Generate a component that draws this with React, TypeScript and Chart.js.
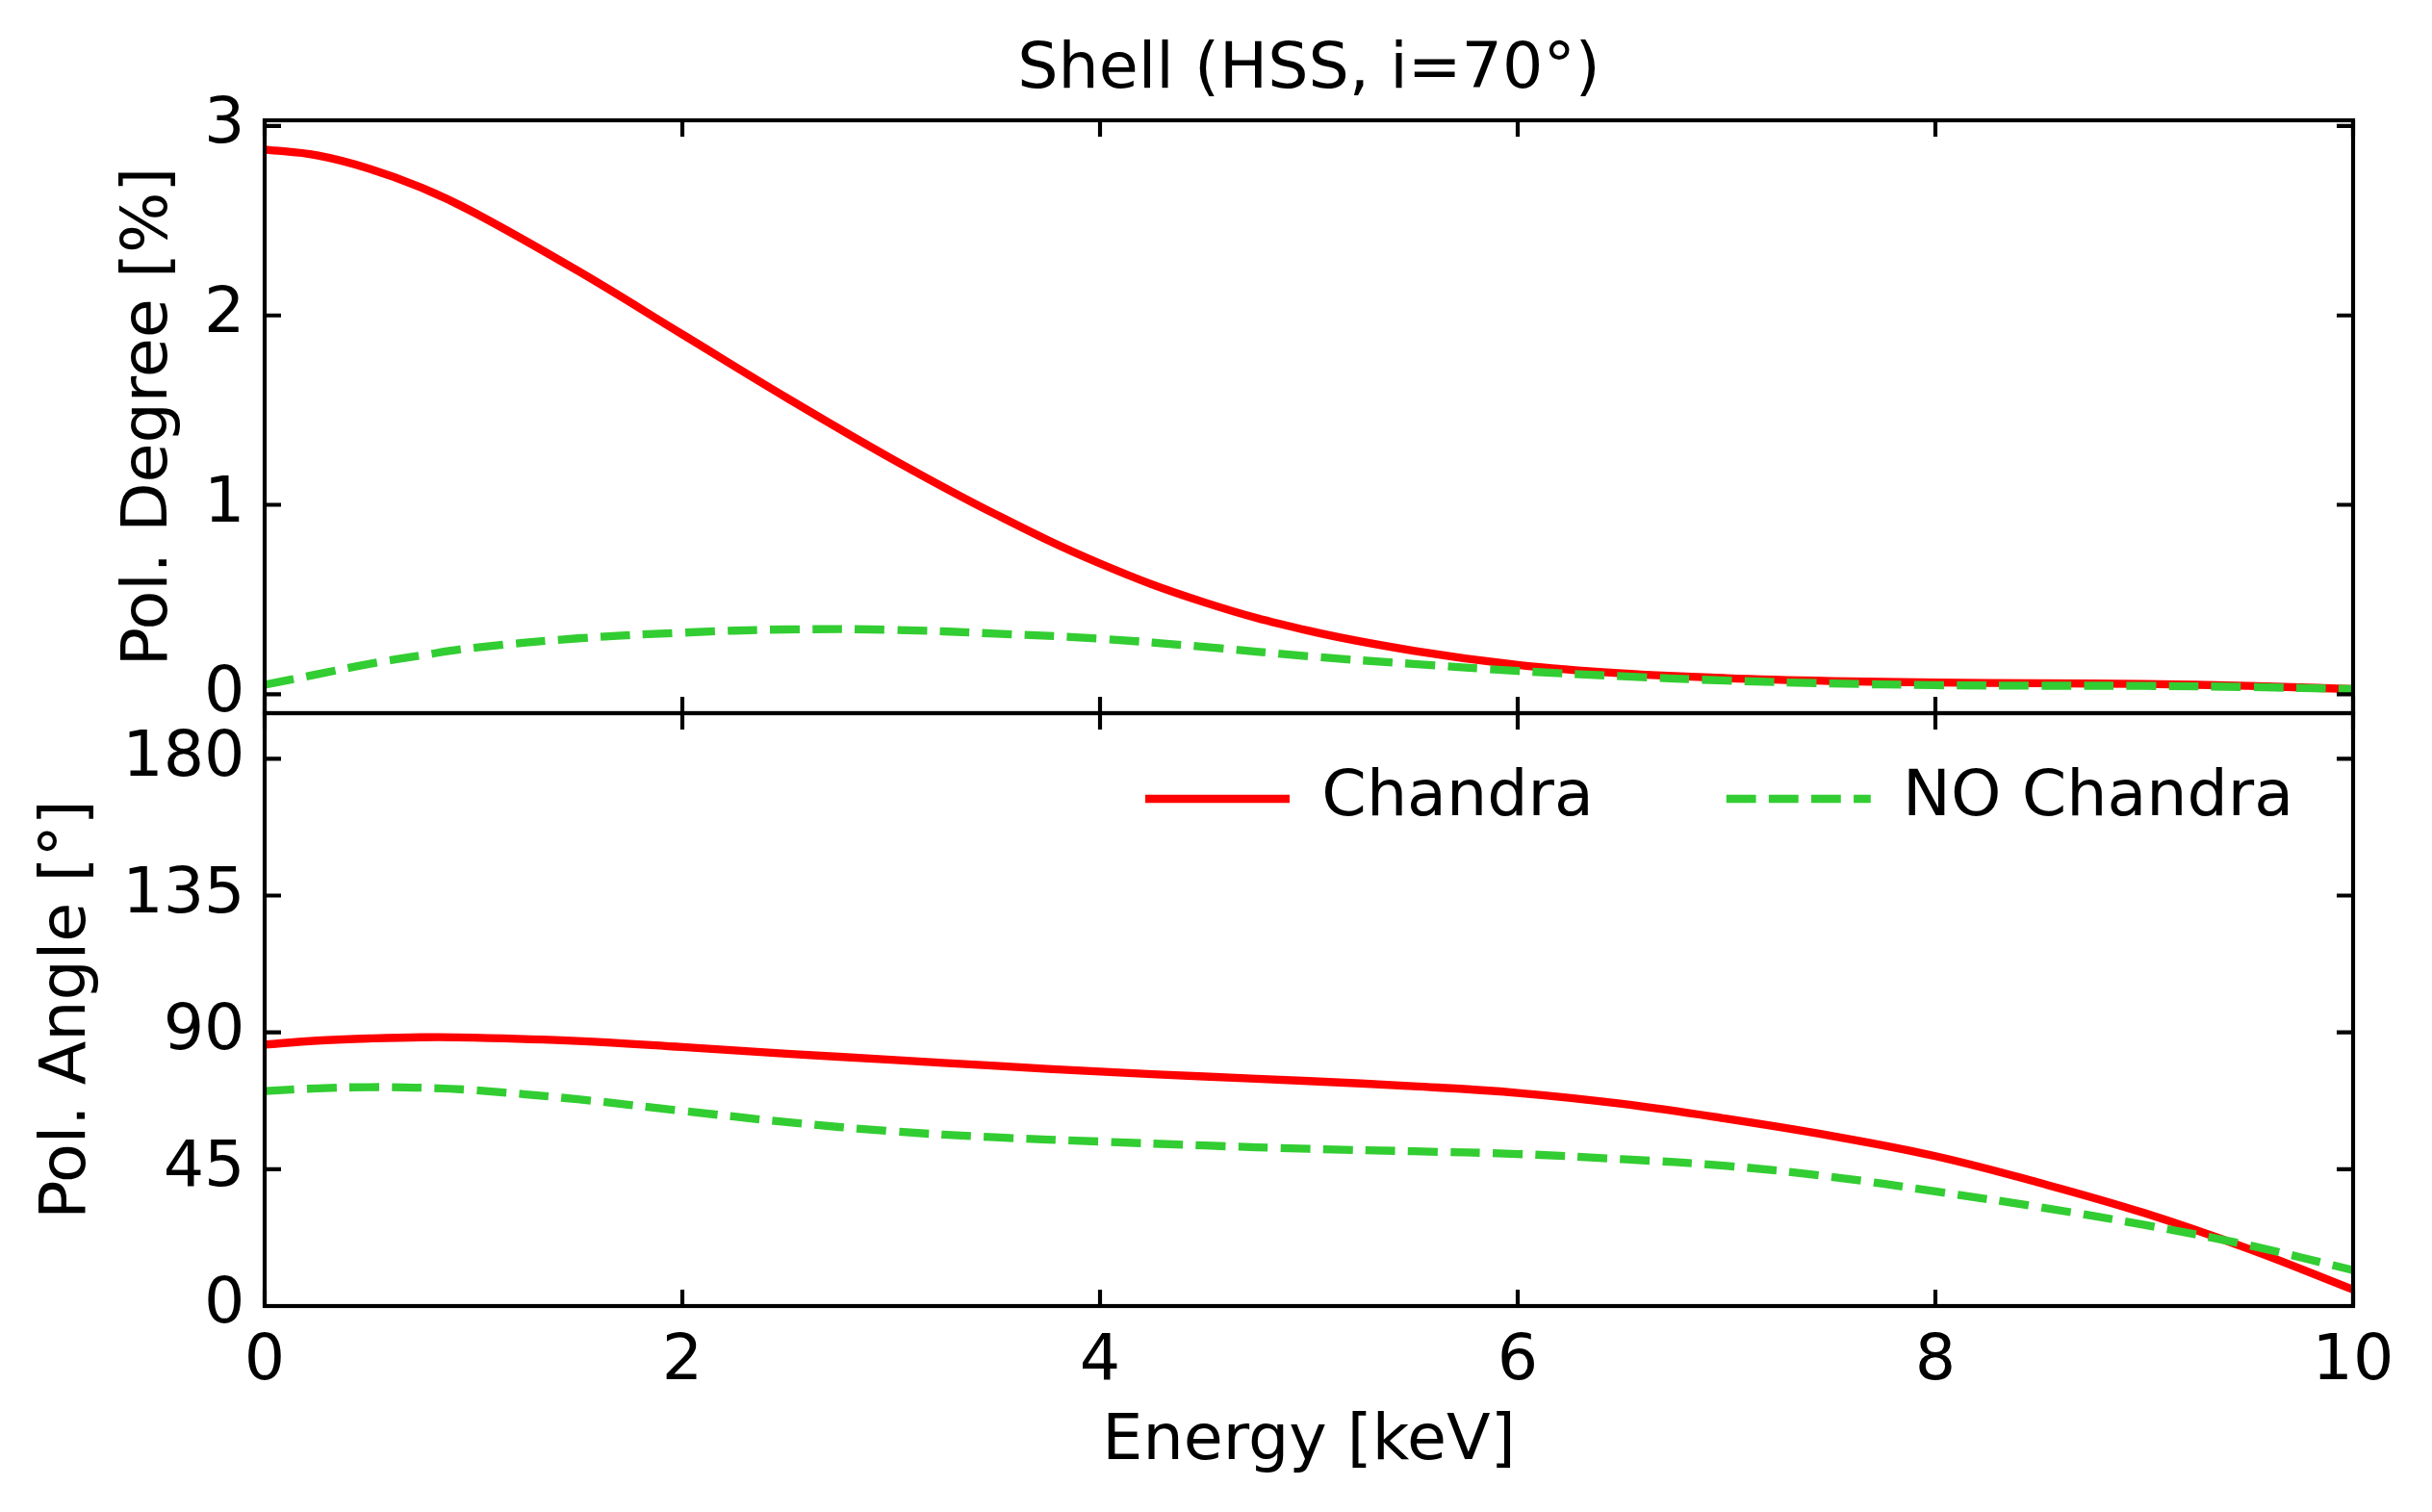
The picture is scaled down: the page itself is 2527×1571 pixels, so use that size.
import { useEffect, useRef } from 'react';
import { Chart, ChartConfiguration, registerables } from 'chart.js';

Chart.register(...registerables);

const W = 2527;
const H = 1571;
const FONT = "'DejaVu Sans', sans-serif";
const FS = 66.67;

// Energy grid [keV]
const energy = [0, 0.25, 0.5, 0.75, 1, 1.5, 2, 2.5, 3, 3.5, 4, 4.5, 5, 5.5, 6, 6.5, 7, 7.5, 8, 8.5, 9, 9.5, 10];

// Pol. Degree [%]
const degreeChandra = [2.876, 2.845, 2.775, 2.675, 2.545, 2.235, 1.9, 1.565, 1.245, 0.95, 0.69, 0.485, 0.335, 0.23, 0.155, 0.11, 0.085, 0.07, 0.062, 0.058, 0.054, 0.044, 0.027];
const degreeNoChandra = [0.05, 0.105, 0.16, 0.205, 0.245, 0.295, 0.325, 0.342, 0.34, 0.32, 0.293, 0.25, 0.2, 0.16, 0.123, 0.095, 0.072, 0.057, 0.048, 0.045, 0.044, 0.038, 0.027];

// Pol. Angle [deg]
const angleChandra = [86.0, 87.3, 88.0, 88.4, 88.3, 87.2, 85.2, 83.0, 81.0, 79.0, 77.1, 75.5, 74.0, 72.3, 70.1, 66.5, 61.6, 56.0, 49.3, 40.5, 30.6, 18.8, 5.4];
const angleNoChandra = [70.7, 71.6, 72.0, 71.8, 71.0, 68.0, 64.2, 60.5, 57.5, 55.5, 54.1, 52.8, 51.7, 50.9, 50.0, 48.3, 46.1, 42.5, 37.7, 32.5, 26.7, 20.0, 11.8];

const xTicks = [0, 2, 4, 6, 8, 10];
const degreeTicks = [0, 1, 2, 3];
const angleTicks = [0, 45, 90, 135, 180];

// axes box in page pixels
const AX_LEFT = 275;
const AX_RIGHT = 2445;
const AX_MID = 741;
const AX_BOTTOM = 1357;
const TICK = 17;

const RED = '#ff0000';
const GREEN = '#32cd32';
const DASH = [30.8, 13.3];

// legend placement (inside lower panel)
const LEG_X = 1190;
const LEG_Y = 830;
const LEG_PAD = 138;

Chart.defaults.font.family = FONT;
Chart.defaults.font.size = FS;
Chart.defaults.color = '#000';

const lineSet = (label: string, ys: number[], color: string, dash: number[], order: number) => ({
  label,
  data: energy.map((x, i) => ({ x, y: ys[i] })),
  borderColor: color,
  backgroundColor: color,
  borderWidth: 8.33,
  borderDash: dash,
  borderCapStyle: 'butt' as const,
  pointRadius: 0,
  tension: 0.4,
  fill: false,
  order,
});

// matplotlib-like frame with inward ticks on all four sides
const frameTicks = {
  id: 'frameTicks',
  afterDatasetsDraw(chart: Chart) {
    const { ctx, chartArea, scales } = chart;
    const { left, right, top, bottom } = chartArea;
    ctx.save();
    ctx.strokeStyle = '#000';
    ctx.lineWidth = 4.17;
    ctx.setLineDash([]);
    ctx.beginPath();
    for (const v of xTicks) {
      const px = scales.x.getPixelForValue(v);
      ctx.moveTo(px, top);
      ctx.lineTo(px, top + TICK);
      ctx.moveTo(px, bottom);
      ctx.lineTo(px, bottom - TICK);
    }
    for (const t of scales.y.ticks) {
      const py = scales.y.getPixelForValue(t.value);
      ctx.moveTo(left, py);
      ctx.lineTo(left + TICK, py);
      ctx.moveTo(right, py);
      ctx.lineTo(right - TICK, py);
    }
    ctx.stroke();
    ctx.strokeRect(left, top, right - left, bottom - top);
    ctx.restore();
  },
};

// move the legend into the plot area (like loc="upper right", frameon=False)
const legendInside = {
  id: 'legendInside',
  afterLayout(chart: Chart) {
    const lg: any = chart.legend;
    if (!lg) return;
    lg.left = LEG_X - LEG_PAD;
    lg.right = W + 1000;
    lg.top = LEG_Y - FS / 2 - LEG_PAD;
    lg.bottom = LEG_Y + FS;
  },
};

const yAxis = (min: number, max: number, ticks: number[], title: string, titlePad: number) => ({
  type: 'linear' as const,
  position: 'left' as const,
  min,
  max,
  afterBuildTicks: (s: any) => {
    s.ticks = ticks.map((v) => ({ value: v }));
  },
  afterFit: (s: any) => {
    s.width = AX_LEFT;
  },
  grid: { display: false, drawTicks: false },
  border: { display: false },
  ticks: { color: '#000', font: { size: FS }, padding: 20.5 },
  title: { display: true, text: title, color: '#000', font: { size: FS }, padding: { top: titlePad, bottom: 0 } },
});

export default function App() {
  const topRef = useRef<HTMLCanvasElement>(null);
  const bottomRef = useRef<HTMLCanvasElement>(null);

  useEffect(() => {
    if (!topRef.current || !bottomRef.current) return;

    const topConfig: ChartConfiguration = {
      type: 'line',
      data: {
        datasets: [
          lineSet('Chandra', degreeChandra, RED, [], 1),
          lineSet('NO Chandra', degreeNoChandra, GREEN, DASH, 0),
        ],
      },
      options: {
        responsive: false,
        animation: false,
        layout: { padding: { left: 0, right: W - AX_RIGHT, top: 0, bottom: H - AX_MID } },
        plugins: {
          legend: { display: false },
          tooltip: { enabled: false },
          title: {
            display: true,
            text: 'Shell (HSS, i=70°)',
            color: '#000',
            font: { size: FS, weight: 'normal' },
            padding: { top: 33.5, bottom: 11.5 },
            fullSize: false,
          },
        },
        scales: {
          x: { type: 'linear', min: 0, max: 10, display: false },
          y: yAxis(-0.1, 3.03, degreeTicks, 'Pol. Degree [%]', 116),
        },
      },
      plugins: [frameTicks],
    } as any;

    const bottomConfig: ChartConfiguration = {
      type: 'line',
      data: {
        datasets: [
          lineSet('Chandra', angleChandra, RED, [], 1),
          lineSet('NO Chandra', angleNoChandra, GREEN, DASH, 0),
        ],
      },
      options: {
        responsive: false,
        animation: false,
        layout: { padding: { left: 0, right: W - AX_RIGHT, top: AX_MID - 1, bottom: 0 } },
        plugins: {
          tooltip: { enabled: false },
          legend: {
            display: true,
            position: 'top',
            align: 'start',
            maxHeight: 1,
            fullSize: false,
            labels: {
              usePointStyle: true,
              pointStyle: 'line',
              pointStyleWidth: 150,
              color: '#000',
              font: { size: FS },
              padding: LEG_PAD,
              sort: (a: any, b: any) => a.datasetIndex - b.datasetIndex,
              generateLabels: (chart: Chart) => {
                const items = Chart.defaults.plugins.legend.labels.generateLabels(chart);
                items.forEach((it: any) => {
                  const ds: any = chart.data.datasets[it.datasetIndex];
                  it.lineDash = ds.borderDash;
                  it.lineWidth = ds.borderWidth;
                  it.strokeStyle = ds.borderColor;
                  it.lineCap = 'butt';
                });
                return items;
              },
            },
          },
        },
        scales: {
          x: {
            type: 'linear',
            position: 'bottom',
            min: 0,
            max: 10,
            afterBuildTicks: (s: any) => {
              s.ticks = xTicks.map((v) => ({ value: v }));
            },
            afterFit: (s: any) => {
              s.height = H - AX_BOTTOM;
            },
            grid: { display: false, drawTicks: false },
            border: { display: false },
            ticks: { color: '#000', font: { size: FS }, padding: 19, maxRotation: 0 },
            title: { display: true, text: 'Energy [keV]', color: '#000', font: { size: FS }, padding: { top: 0, bottom: 32.5 } },
          },
          y: yAxis(0, 195, angleTicks, 'Pol. Angle [°]', 31),
        },
      },
      plugins: [frameTicks, legendInside],
    } as any;

    const top = new Chart(topRef.current, topConfig);
    const bottom = new Chart(bottomRef.current, bottomConfig);

    return () => {
      top.destroy();
      bottom.destroy();
    };
  }, []);

  const canvasStyle = { position: 'absolute' as const, left: 0, top: 0, width: W, height: H };

  return (
    <div style={{ position: 'fixed', left: 0, top: 0, width: W, height: H, background: '#fff' }}>
      <canvas ref={topRef} width={W} height={H} style={canvasStyle} />
      <canvas ref={bottomRef} width={W} height={H} style={canvasStyle} />
    </div>
  );
}
